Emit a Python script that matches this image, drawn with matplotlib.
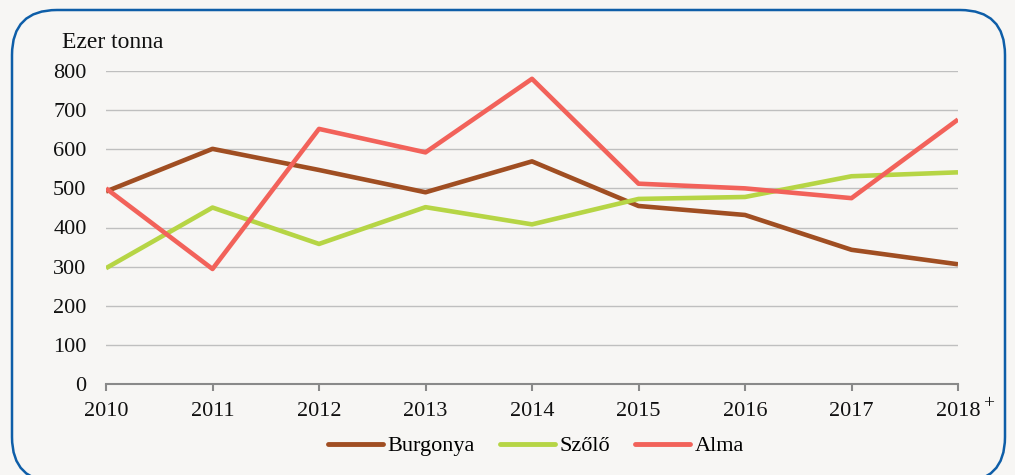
import matplotlib
matplotlib.use("Agg")
import matplotlib.pyplot as plt
from matplotlib.patches import FancyBboxPatch

years = ["2010", "2011", "2012", "2013", "2014", "2015", "2016", "2017", "2018"]
burgonya = [492, 601, 547, 490, 569, 455, 432, 343, 306]
szolo = [296, 451, 358, 452, 408, 473, 478, 531, 541]
alma = [500, 294, 652, 592, 780, 512, 500, 475, 676]
yticks = [0, 100, 200, 300, 400, 500, 600, 700, 800]

plt.rcParams['font.family'] = ['Liberation Serif', 'DejaVu Serif']

bg = '#F7F6F4'
W, H = 1015, 475
fig = plt.figure(figsize=(W / 100, H / 100), dpi=100)
fig.patch.set_facecolor(bg)

# background axes for the rounded border (pixel coordinates, y up)
bax = fig.add_axes([0, 0, 1, 1], zorder=-1)
bax.set_xlim(0, W)
bax.set_ylim(0, H)
bax.axis('off')
border = FancyBboxPatch((12, H - 482), 1005 - 12, 482 - 10,
                        boxstyle="round,pad=0,rounding_size=45",
                        facecolor='none', edgecolor='#0E5EA8', linewidth=1.8,
                        clip_on=False)
bax.add_patch(border)

ax = fig.add_axes([106 / W, (H - 384) / H, (958 - 106) / W, (384 - 71) / H])
ax.set_facecolor('none')

x = list(range(len(years)))
ax.plot(x, burgonya, color='#A04E22', lw=3.3, label='Burgonya', solid_capstyle='butt', zorder=3)
ax.plot(x, szolo, color='#B6D545', lw=3.3, label='Szőlő', solid_capstyle='butt', zorder=3)
ax.plot(x, alma, color='#F2625A', lw=3.3, label='Alma', solid_capstyle='butt', zorder=4)

ax.set_xlim(0, len(years) - 1)
ax.set_ylim(0, 800)
ax.set_yticks(yticks)
ax.set_yticklabels([str(v) for v in yticks])
for v in yticks[1:]:
    ax.axhline(v, color='#BFBFBF', lw=1.0, zorder=1)

ax.set_xticks(x)
ax.set_xticklabels(years)
for s in ['top', 'right', 'left']:
    ax.spines[s].set_visible(False)
ax.spines['bottom'].set_color('#898989')
ax.spines['bottom'].set_linewidth(1.5)
ax.tick_params(axis='x', colors='#898989', length=5, width=1.5, pad=8,
               labelcolor='#111111', labelsize=16)
ax.tick_params(axis='y', length=0, pad=14, labelcolor='#111111', labelsize=16)

ax.text(1.029, -0.062, '+', transform=ax.transAxes, fontsize=14, color='#111111',
        ha='left', va='center')

fig.text(62 / W, 1 - 42 / H, 'Ezer tonna', fontsize=17, color='#111111',
         ha='left', va='center')

leg = fig.legend(loc='center', bbox_to_anchor=(536 / W, 1 - 446 / H), ncol=3,
                 frameon=False, fontsize=16, handlelength=2.5, handletextpad=0.2,
                 columnspacing=1.1)
for line in leg.get_lines():
    line.set_linewidth(3.5)
    line.set_solid_capstyle('round')

fig.savefig('out.png', dpi=100, facecolor=bg)
